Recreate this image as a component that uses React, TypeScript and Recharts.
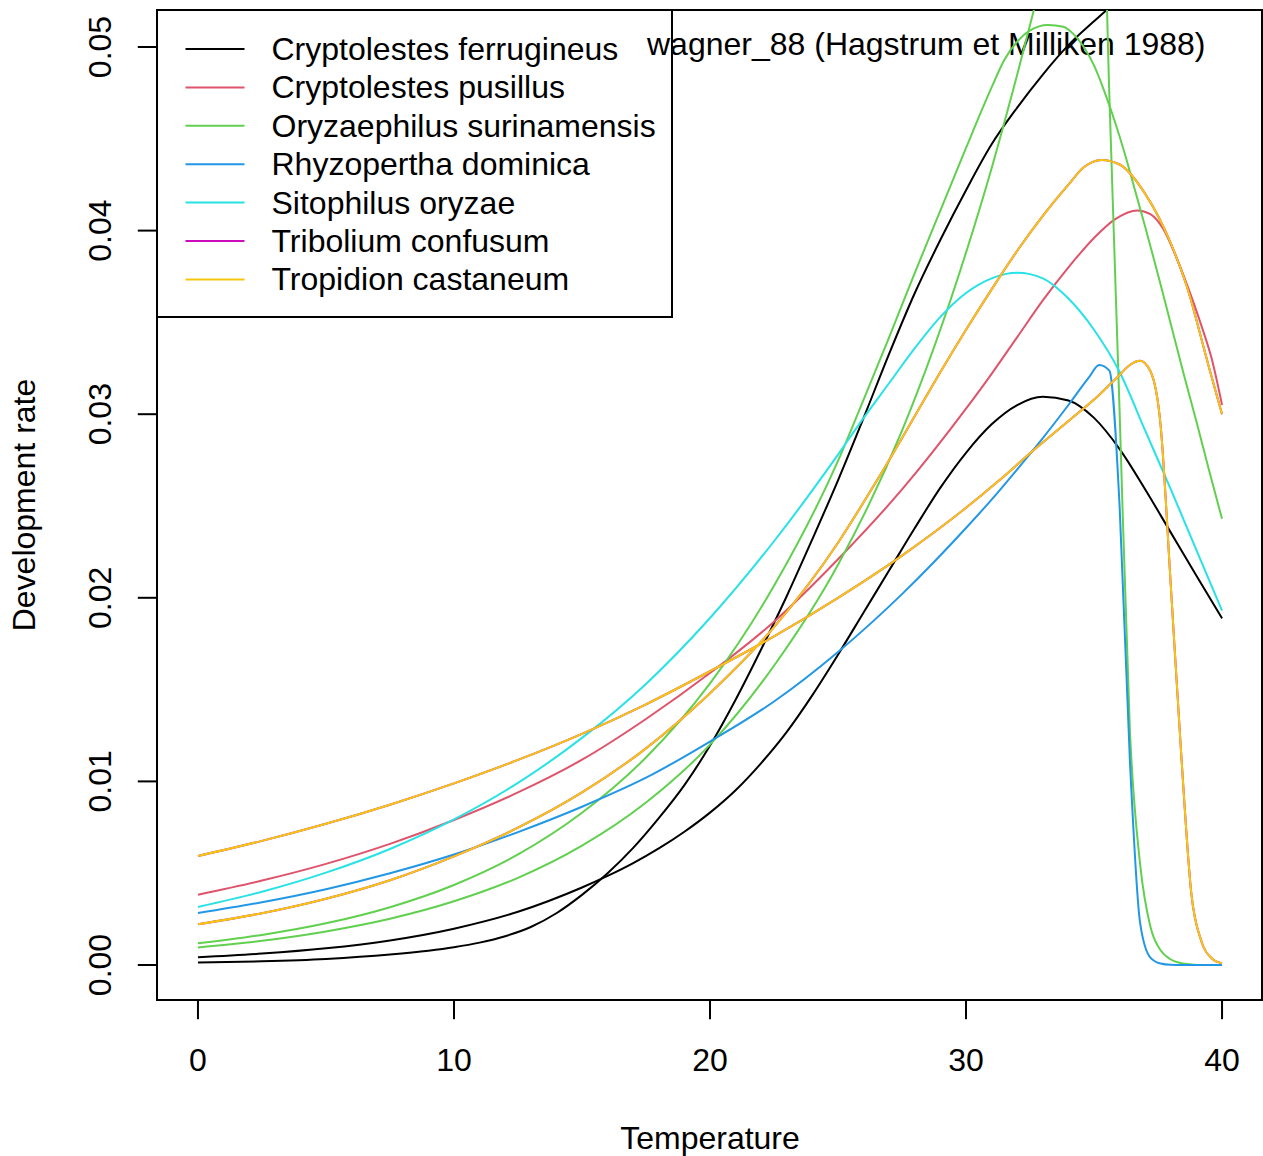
import React from 'react';
import { LineChart, Line, XAxis, YAxis, Customized } from 'recharts';

// ---- data: [temperature, development rate] ----
const ferrugineusA: [number, number][] = [
  [0, 0.00042], [2.5, 0.00062], [5, 0.00091], [7.5, 0.00134], [10, 0.00198], [12.5, 0.0029],
  [15, 0.00422], [16, 0.00485], [17, 0.00555], [18, 0.00635], [19, 0.00726], [20, 0.0083],
  [21, 0.00952], [22, 0.011], [23, 0.0127], [24, 0.0147], [25, 0.0169], [26, 0.0192],
  [27, 0.0215], [28, 0.0238], [29, 0.026], [30, 0.0279], [31, 0.02945], [32, 0.0305],
  [33, 0.03095], [34, 0.03075], [35, 0.0298], [36, 0.0281], [37, 0.0259], [38, 0.02355],
  [39, 0.0212], [40, 0.01888],
];
const ferrugineusB: [number, number][] = [
  [0, 0.00013], [2.5, 0.0002], [5, 0.00033], [7.5, 0.00057], [9, 0.00078], [10, 0.00097],
  [11, 0.00122], [12, 0.00157], [13, 0.00207], [14, 0.00282], [15, 0.00382], [16, 0.005],
  [17, 0.00638], [18, 0.008], [19, 0.0098], [20, 0.01195], [21, 0.01445], [22, 0.0172],
  [23, 0.0201], [24, 0.0232], [25, 0.0264], [26, 0.0298], [27, 0.0333], [28, 0.0366],
  [29, 0.0395], [30, 0.0422], [31, 0.0447], [32, 0.0467], [33, 0.0485], [34, 0.0501],
  [35, 0.0514], [36, 0.0526], [38, 0.0542], [40, 0.0548],
];
const pusillus: [number, number][] = [
  [0, 0.00383], [2.5, 0.0046], [5, 0.00551], [7.5, 0.0066], [10, 0.0079], [12.5, 0.0094],
  [15, 0.01118], [17.5, 0.0134], [20, 0.0159], [22.5, 0.0187], [25, 0.0221], [27.5, 0.0259],
  [30, 0.0303], [31, 0.0322], [32, 0.0342], [33, 0.0362], [34, 0.038], [35, 0.0396],
  [35.8, 0.0406], [36.7, 0.0411], [37.2, 0.0409], [37.7, 0.0401], [38.2, 0.0386], [38.7, 0.0368],
  [39.2, 0.0348], [39.6, 0.033], [40, 0.0305],
];
const surinamensisA: [number, number][] = [
  [0, 0.00118], [2.5, 0.00164], [5, 0.00227], [7.5, 0.00315], [10, 0.00436], [12.5, 0.00602],
  [15, 0.00829], [17.5, 0.0113], [20, 0.01534], [22.5, 0.02065], [25, 0.02746], [26, 0.0308],
  [27, 0.0342], [28, 0.0377], [29, 0.0411], [30, 0.0445], [31, 0.0478], [31.5, 0.0493],
  [32, 0.0503], [32.5, 0.0509], [33.2, 0.0512], [33.8, 0.0511], [34.2, 0.0507], [34.6, 0.05],
  [35, 0.049], [35.4, 0.0476], [35.8, 0.046], [36.2, 0.0442], [36.6, 0.0422], [37, 0.0402],
  [37.5, 0.0376], [38, 0.0349], [38.5, 0.0322], [39, 0.0296], [39.5, 0.0269], [40, 0.0243],
];
const surinamensisB: [number, number][] = [
  [0, 0.00096], [2.5, 0.00132], [5, 0.00183], [7.5, 0.00252], [10, 0.00347], [12.5, 0.00475],
  [15, 0.0065], [17.5, 0.00885], [20, 0.012], [22.5, 0.0163], [25, 0.0218], [27.5, 0.0291],
  [30, 0.0388], [31, 0.0434], [32, 0.0485], [33, 0.0539], [34, 0.0596], [34.8, 0.063],
  [35.2, 0.065], [35.6, 0.0473], [36, 0.0301], [36.4, 0.0128], [36.8, 0.0055], [37.2, 0.0021],
  [37.6, 0.0008], [38, 0.0003], [38.4, 0.0001], [38.8, 0.00003], [39.2, 0], [40, 0],
];
const dominica: [number, number][] = [
  [0, 0.00283], [2.5, 0.00342], [5, 0.00413], [7.5, 0.005], [10, 0.00602], [12.5, 0.00724],
  [15, 0.00862], [17.5, 0.0102], [20, 0.01217], [22.5, 0.01435], [25, 0.01705], [27.5, 0.0202],
  [30, 0.0238], [31, 0.02535], [32, 0.027], [33, 0.0287], [34, 0.0305], [34.8, 0.032],
  [35.2, 0.03268], [35.6, 0.03237], [36, 0.02496], [36.4, 0.01117], [36.8, 0.00229], [37.2, 0.0004],
  [37.6, 0.00008], [38, 0.00001], [38.4, 0], [40, 0],
];
const oryzae: [number, number][] = [
  [0, 0.00316], [2.5, 0.00399], [5, 0.00503], [7.5, 0.00632], [10, 0.00793], [12.5, 0.00992],
  [15, 0.01237], [17.5, 0.01531], [20, 0.0189], [22.5, 0.02308], [25, 0.0278], [26, 0.0298],
  [27, 0.0317], [28, 0.0336], [29, 0.0353], [30, 0.0366], [31, 0.0374], [32, 0.0377],
  [33, 0.0374], [34, 0.0363], [35, 0.0346], [36, 0.0323], [37, 0.0291], [38, 0.0259],
  [39, 0.0226], [40, 0.0193],
];
const castaneumA: [number, number][] = [
  [0, 0.00594], [2.5, 0.00676], [5, 0.00769], [7.5, 0.00873], [10, 0.00989], [12.5, 0.01117],
  [15, 0.01259], [17.5, 0.0142], [20, 0.016], [22.5, 0.0179], [25, 0.02], [27.5, 0.0223],
  [30, 0.0249], [31.3, 0.0264], [32.5, 0.02787], [34.2, 0.02986], [35.2, 0.03105], [36, 0.03214],
  [36.4, 0.03268], [36.8, 0.03291], [37.2, 0.03235], [37.6, 0.0294], [38, 0.02064], [38.4, 0.0116],
  [38.8, 0.0039], [39.2, 0.00127], [39.6, 0.00036], [40, 0.0001],
];
const castaneumB: [number, number][] = [
  [0, 0.00222], [2.5, 0.00282], [5, 0.00361], [7.5, 0.00462], [10, 0.00592], [12.5, 0.00748],
  [15, 0.0094], [17.5, 0.0118], [20, 0.0148], [22.5, 0.0184], [25, 0.023], [26, 0.0252],
  [27, 0.0275], [28, 0.0299], [29, 0.0323], [30, 0.0346], [31, 0.0368], [32, 0.0389],
  [33, 0.0408], [34, 0.0425], [34.6, 0.04345], [35.3, 0.04385], [36, 0.0436], [37, 0.042],
  [38, 0.0393], [38.75, 0.0364], [39.1, 0.0346], [39.5, 0.0325], [40, 0.03],
];

const legendLabels = [
  'Cryptolestes ferrugineus', 'Cryptolestes pusillus', 'Oryzaephilus surinamensis',
  'Rhyzopertha dominica', 'Sitophilus oryzae', 'Tribolium confusum', 'Tropidion castaneum',
];
const legendColors = ['#000000', '#DF536B', '#61D04F', '#2297E6', '#28E2E5', '#CD0BBC', '#F5C710'];

const xTicks = [0, 10, 20, 30, 40];
const yTicks = [0, 0.01, 0.02, 0.03, 0.04, 0.05];
const yTickLabels = ['0.00', '0.01', '0.02', '0.03', '0.04', '0.05'];

const titleText = 'wagner_88 (Hagstrum et Milliken 1988)';
const xLabel = 'Temperature';
const yLabel = 'Development rate';

const seriesList: { key: string; data: [number, number][]; color: string }[] = [
  { key: 'cfA', data: ferrugineusA, color: legendColors[0] },
  { key: 'cfB', data: ferrugineusB, color: legendColors[0] },
  { key: 'cp', data: pusillus, color: legendColors[1] },
  { key: 'osA', data: surinamensisA, color: legendColors[2] },
  { key: 'osB', data: surinamensisB, color: legendColors[2] },
  { key: 'rd', data: dominica, color: legendColors[3] },
  { key: 'so', data: oryzae, color: legendColors[4] },
  { key: 'tconfA', data: castaneumA, color: legendColors[5] },
  { key: 'tconfB', data: castaneumB, color: legendColors[5] },
  { key: 'tcA', data: castaneumA, color: legendColors[6] },
  { key: 'tcB', data: castaneumB, color: legendColors[6] },
];

// ---- layout ----
const W = 1263;
const H = 1156;
const PLOT_LEFT = 157;
const PLOT_TOP = 10;
const PLOT_BOTTOM = 1000;
const PLOT_RIGHT = 1262;
const X_DOMAIN: [number, number] = [-1.6, 41.6];
const Y_DOMAIN: [number, number] = [-0.001906, 0.052015];
const FONT = '"Liberation Sans", Arial, Helvetica, sans-serif';
const FS = 32;
const TICK_LEN = 19.2;

const XTick = (props: any) => {
  const { x, payload } = props;
  return (
    <g>
      <line x1={x} x2={x} y1={PLOT_BOTTOM} y2={PLOT_BOTTOM + TICK_LEN} stroke="#000" strokeWidth={2} />
      <text x={x} y={1071} textAnchor="middle" fontSize={FS} fontFamily={FONT} fill="#000">
        {payload.value}
      </text>
    </g>
  );
};

const YTick = (props: any) => {
  const { y, payload, index } = props;
  const lx = 111.5;
  return (
    <g>
      <line x1={PLOT_LEFT - TICK_LEN} x2={PLOT_LEFT} y1={y} y2={y} stroke="#000" strokeWidth={2} />
      <text
        x={lx}
        y={y}
        transform={`rotate(-90, ${lx}, ${y})`}
        textAnchor="middle"
        fontSize={FS}
        fontFamily={FONT}
        fill="#000"
      >
        {yTickLabels[yTicks.indexOf(payload.value)] ?? yTickLabels[index]}
      </text>
    </g>
  );
};

const Decorations = () => (
  <g>
    <rect
      x={PLOT_LEFT}
      y={PLOT_TOP}
      width={PLOT_RIGHT - PLOT_LEFT}
      height={PLOT_BOTTOM - PLOT_TOP}
      fill="none"
      stroke="#000"
      strokeWidth={2}
    />
    <text x={647} y={55} fontSize={FS} fontFamily={FONT} fill="#000">
      {titleText}
    </text>
    <text x={710} y={1149} textAnchor="middle" fontSize={FS} fontFamily={FONT} fill="#000">
      {xLabel}
    </text>
    <text
      x={35}
      y={505}
      transform="rotate(-90, 35, 505)"
      textAnchor="middle"
      fontSize={FS}
      fontFamily={FONT}
      fill="#000"
    >
      {yLabel}
    </text>
  </g>
);

const LegendBox = () => (
  <g>
    <rect x={PLOT_LEFT} y={PLOT_TOP} width={515} height={307} fill="none" stroke="#000" strokeWidth={2} />
    {legendLabels.map((lab, i) => {
      const ly = 49 + i * 38.4;
      return (
        <g key={lab}>
          <line x1={185.5} x2={244.5} y1={ly} y2={ly} stroke={legendColors[i]} strokeWidth={2} />
          <text x={271.5} y={ly + 11} fontSize={FS} fontFamily={FONT} fill="#000">
            {lab}
          </text>
        </g>
      );
    })}
  </g>
);

export default function App() {
  return (
    <div style={{ position: 'absolute', left: 0, top: 0, width: W, height: H, background: '#fff' }}>
      <LineChart width={W} height={H} margin={{ top: PLOT_TOP, right: 0, bottom: 0, left: 0 }}>
        <XAxis
          dataKey="t"
          type="number"
          domain={X_DOMAIN}
          allowDataOverflow
          ticks={xTicks}
          interval={0}
          height={H - PLOT_BOTTOM}
          tickLine={false}
          axisLine={false}
          tickSize={0}
          tick={<XTick />}
        />
        <YAxis
          type="number"
          domain={Y_DOMAIN}
          allowDataOverflow
          ticks={yTicks}
          interval={0}
          width={PLOT_LEFT}
          tickLine={false}
          axisLine={false}
          tickSize={0}
          tick={<YTick />}
        />
        <Customized component={Decorations} />
        {seriesList.map((s) => (
          <Line
            key={s.key}
            data={s.data.map(([t, v]) => ({ t, v }))}
            dataKey="v"
            type="monotone"
            stroke={s.color}
            strokeWidth={2}
            dot={false}
            activeDot={false}
            isAnimationActive={false}
          />
        ))}
        <Customized component={LegendBox} />
      </LineChart>
    </div>
  );
}
